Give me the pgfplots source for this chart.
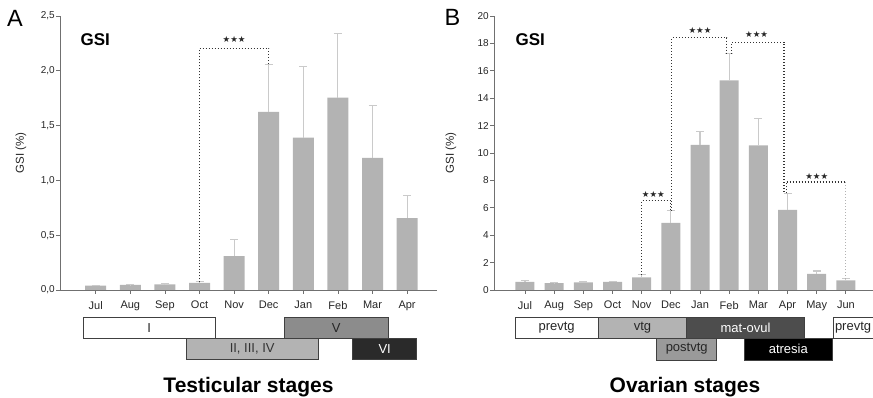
\documentclass[border=0pt]{standalone}
\usepackage{fontspec}
\setmainfont{Liberation Sans}
\newfontfamily\symfont{DejaVu Sans}
\usepackage{pgfplots}
\usepackage{pgfplotstable}
\pgfplotsset{compat=1.18}

\definecolor{barfill}{HTML}{B3B3B3}
\definecolor{errgray}{HTML}{CACACA}
\definecolor{axisgray}{HTML}{707070}
\definecolor{brk}{HTML}{333333}
\definecolor{boxline}{HTML}{404040}
\definecolor{stV}{HTML}{8C8C8C}
\definecolor{stVI}{HTML}{2A2A2A}
\definecolor{matov}{HTML}{4D4D4D}
\definecolor{postv}{HTML}{9A9A9A}

% GSI, males: month index, mean, standard error
\pgfplotstableread{
x  y      e
0  0.040  0.005
1  0.046  0.004
2  0.052  0.004
3  0.064  0.010
4  0.310  0.150
5  1.625  0.435
6  1.390  0.650
7  1.755  0.585
8  1.205  0.480
9  0.655  0.205
}\testis

% GSI, females: month index, mean, standard error
\pgfplotstableread{
x   y      e
0   0.60   0.08
1   0.50   0.03
2   0.55   0.03
3   0.60   0.04
4   0.92   0.18
5   4.90   0.88
6   10.60  1.00
7   15.30  1.95
8   10.55  1.95
9   5.85   1.20
10  1.17   0.22
11  0.70   0.12
}\ovary

\tikzset{
  sig/.style={brk, line width=1.1pt, dash pattern=on 1pt off 2pt},
  stars/.style={font=\symfont\fontsize{8.5}{9}\selectfont, text=black!85},
  stage/.style={draw=boxline, line width=0.8pt},
  stagetxt/.style={font=\fontsize{13}{15}\selectfont},
  ylab/.style={rotate=90, font=\fontsize{11.5}{13}\selectfont, text=black!85},
}

\pgfplotsset{
  gsiaxis/.style={
    scale only axis,
    anchor=south west,
    axis x line=bottom,
    axis y line=left,
    axis line style={-, axisgray, line width=0.8pt},
    tick align=outside,
    major tick length=4pt,
    tick style={axisgray, line width=0.8pt},
    ymin=0,
    ybar,
    clip=false,
    xtick=data,
    /pgf/number format/assume math mode=true,
    yticklabel style={font=\fontsize{10}{12}\selectfont, text=black!85},
    xticklabel style={font=\fontsize{11}{13}\selectfont, text=black!85, yshift=-6pt},
    tick label style={inner sep=1pt},
  },
  gsibars/.style={
    fill=barfill, draw=none,
    error bars/.cd,
      y dir=plus, y explicit,
      error bar style={errgray, line width=1.1pt},
      error mark options={errgray, line width=1.1pt, mark size=4pt, rotate=90},
  },
}

\begin{document}
\begin{tikzpicture}

% ---------- Panel A: testes ----------
\begin{axis}[gsiaxis,
  at={(60pt,108pt)}, width=377pt, height=274pt,
  xmin=-1.032, xmax=9.864, ymax=2.5,
  bar width=21pt,
  ytick={0,0.5,...,2.5},
  yticklabel={\pgfmathprintnumber[fixed, fixed zerofill, precision=1, use comma]{\tick}},
  xticklabels={Jul,Aug,Sep,Oct,Nov,Dec,Jan,Feb,Mar,Apr},
]
\addplot[gsibars] table[x=x, y=y, y error=e] {\testis};
\draw[sig] (axis cs:3,0.07) -- (axis cs:3,2.205) -- (axis cs:5,2.205) -- (axis cs:5,2.06);
\node[stars] at (axis cs:4,2.29) {★★★};
\end{axis}

% ---------- Panel B: ovaries ----------
\begin{axis}[gsiaxis,
  at={(494pt,108pt)}, width=379pt, height=274pt,
  xmin=-1.062, xmax=11.93, ymax=20,
  bar width=19pt,
  ytick={0,2,...,20},
  xticklabels={Jul,Aug,Sep,Oct,Nov,Dec,Jan,Feb,Mar,Apr,May,Jun},
]
\addplot[gsibars] table[x=x, y=y, y error=e] {\ovary};
\draw[sig] (axis cs:4,1.12) -- (axis cs:4,6.52) -- (axis cs:5,6.52) -- (axis cs:5,5.8);
\node[stars] at (axis cs:4.4,6.97) {★★★};
\draw[sig] (axis cs:5.03,5.8) -- (axis cs:5.03,18.42) -- (axis cs:6.92,18.42) -- (axis cs:6.92,17.25);
\node[stars] at (axis cs:6.0,18.95) {★★★};
\draw[sig] (axis cs:7.08,17.25) -- (axis cs:7.08,18.08) -- (axis cs:8.88,18.08) -- (axis cs:8.88,7.05);
\node[stars] at (axis cs:7.94,18.62) {★★★};
\draw[sig] (axis cs:8.95,7.05) -- (axis cs:8.95,7.88) -- (axis cs:11,7.88);
\draw[sig, black!30] (axis cs:11,7.88) -- (axis cs:11,0.84);
\node[stars] at (axis cs:10,8.3) {★★★};
\end{axis}

% ---------- panel letters, headings, axis titles ----------
\node[font=\fontsize{23.5}{26}\selectfont] at (15pt,380pt) {A};
\node[font=\fontsize{23.5}{26}\selectfont] at (452.5pt,381pt) {B};
\node[anchor=west, font=\bfseries\fontsize{17}{19}\selectfont] at (77pt,358pt) {GSI};
\node[anchor=west, font=\bfseries\fontsize{17}{19}\selectfont] at (512pt,358pt) {GSI};
\node[ylab] at (21pt,245pt) {GSI (\%)};
\node[ylab] at (451pt,245pt) {GSI (\%)};

% ---------- testicular stages ----------
\draw[stage, fill=white] (83.3pt,59.7pt) rectangle node[stagetxt, text=black!85] {I} (215pt,80.3pt);
\draw[stage, fill=stV] (284.3pt,59.7pt) rectangle node[stagetxt, text=black!85] {V} (388.3pt,80.3pt);
\draw[stage, fill=barfill] (186pt,38.7pt) rectangle node[stagetxt, text=black!80] {II, III, IV} (318.3pt,59.7pt);
\draw[stage, fill=stVI] (352.7pt,38.7pt) rectangle node[stagetxt, text=white] {VI} (416.7pt,59.7pt);
\node[anchor=base, font=\bfseries\fontsize{21}{24}\selectfont] at (248.5pt,5pt) {Testicular stages};

% ---------- ovarian stages ----------
\draw[stage, fill=white] (515pt,59.7pt) rectangle node[stagetxt, text=black!85] {prevtg} (598.3pt,80.3pt);
\draw[stage, fill=barfill] (598.3pt,59.7pt) rectangle node[stagetxt, text=black!85] {vtg} (686.7pt,80.3pt);
\draw[stage, fill=matov] (686.7pt,59.7pt) rectangle node[stagetxt, text=white] {mat-ovul} (804.3pt,80.3pt);
\draw[stage, fill=white] (833.3pt,59.7pt) rectangle (890pt,80.3pt);
\node[stagetxt, anchor=west, inner sep=0pt, text=black!85] at (834.8pt,70pt) {prevtg};
\draw[stage, fill=postv] (656.7pt,38pt) rectangle node[stagetxt, text=black!85] {postvtg} (716.7pt,59.7pt);
\draw[stage, fill=black] (744.3pt,38pt) rectangle node[stagetxt, text=white] {atresia} (832.3pt,59.7pt);
\node[anchor=base, font=\bfseries\fontsize{21}{24}\selectfont] at (685pt,5pt) {Ovarian stages};

\pgfresetboundingbox
\path[use as bounding box] (0,0) rectangle (873pt,398pt);
\end{tikzpicture}
\end{document}
